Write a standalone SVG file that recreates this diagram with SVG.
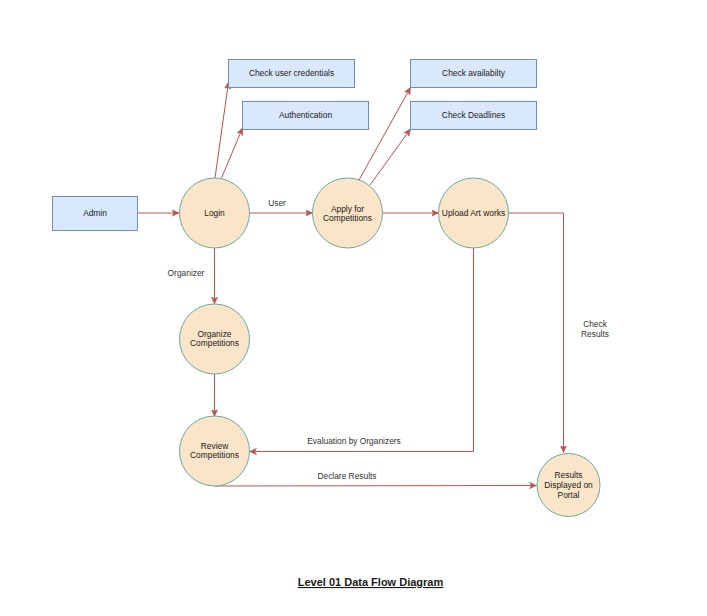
<svg xmlns="http://www.w3.org/2000/svg" width="707" height="616" viewBox="0 0 707 616">
<style>
.box{fill:#dae8fc;stroke:#6c8ebf;stroke-width:1}
.proc{fill:#fae5c8;stroke:#67ab9f;stroke-width:1}
.t{font-family:"Liberation Sans",Arial,sans-serif;font-size:8.4px;fill:#1a1a1a;text-anchor:middle}
.lbl{font-family:"Liberation Sans",Arial,sans-serif;font-size:8.4px;fill:#333333;text-anchor:middle}
.e{fill:none;stroke:#b85450;stroke-width:1;marker-end:url(#arr)}
.title{font-family:"Liberation Sans",Arial,sans-serif;font-size:11px;font-weight:bold;fill:#1a1a1a;text-anchor:middle;text-decoration:underline}
</style>
<defs>
<marker id="arr" markerUnits="userSpaceOnUse" markerWidth="8" markerHeight="8" refX="7" refY="4" orient="auto">
<path d="M0,0.8 L7,4 L0,7.2 L1.8,4 Z" fill="#b85450" stroke="#b85450" stroke-width="0.5"/>
</marker>
</defs>
<rect width="707" height="616" fill="#ffffff"/>
<g id="connectors">
<path class="e" d="M138,213 L179,213"/>
<path class="e" d="M215,178 L228.5,82"/>
<path class="e" d="M221.5,178 L242.5,128"/>
<path class="e" d="M249,213 L312.5,213"/>
<text class="lbl" x="277" y="206">User</text>
<path class="e" d="M359,180 L410.5,87.5"/>
<path class="e" d="M370,185 L410.5,129"/>
<path class="e" d="M383,213 L438.5,213"/>
<path class="e" d="M508.5,213 L563.5,213 L563.5,452.5"/>
<text class="lbl" x="595" y="327">Check</text>
<text class="lbl" x="595" y="337">Results</text>
<path class="e" d="M473.5,248 L473.5,451.5 L249.5,451.5"/>
<text class="lbl" x="354" y="444">Evaluation by Organizers</text>
<path class="e" d="M214.5,248 L214.5,304"/>
<text class="lbl" x="186" y="276">Organizer</text>
<path class="e" d="M214.5,374 L214.5,416.5"/>
<path class="e" d="M214.5,486 L536.5,485.5"/>
<text class="lbl" x="347" y="479">Declare Results</text>
</g>
<g id="admin"><rect class="box" x="52.5" y="196.5" width="85" height="34"/><text class="t" x="95" y="216">Admin</text></g>
<g id="check-user-credentials"><rect class="box" x="228.5" y="59.5" width="126" height="28"/><text class="t" x="291.5" y="76">Check user credentials</text></g>
<g id="authentication"><rect class="box" x="242.5" y="101.5" width="126" height="28"/><text class="t" x="305.5" y="118">Authentication</text></g>
<g id="check-availability"><rect class="box" x="410.5" y="59.5" width="126" height="28"/><text class="t" x="473.5" y="76">Check availabilty</text></g>
<g id="check-deadlines"><rect class="box" x="410.5" y="101.5" width="126" height="28"/><text class="t" x="473.5" y="118">Check Deadlines</text></g>
<g id="login"><circle class="proc" cx="214.5" cy="213" r="35"/><text class="t" x="214.5" y="216">Login</text></g>
<g id="apply"><circle class="proc" cx="347.5" cy="213" r="35"/><text class="t" x="347.5" y="212">Apply for</text><text class="t" x="347.5" y="221">Competitions</text></g>
<g id="upload"><circle class="proc" cx="473.5" cy="213" r="35"/><text class="t" x="473.5" y="216">Upload Art works</text></g>
<g id="organize"><circle class="proc" cx="214.5" cy="339" r="35"/><text class="t" x="214.5" y="337">Organize</text><text class="t" x="214.5" y="346">Competitions</text></g>
<g id="review"><circle class="proc" cx="214.5" cy="451" r="35"/><text class="t" x="214.5" y="449">Review</text><text class="t" x="214.5" y="458">Competitions</text></g>
<g id="results"><circle class="proc" cx="568.5" cy="485" r="31.5"/><text class="t" x="568.5" y="478">Results</text><text class="t" x="568.5" y="488">Displayed on</text><text class="t" x="568.5" y="498">Portal</text></g>
<text class="title" x="370.5" y="586">Level 01 Data Flow Diagram</text>
</svg>
